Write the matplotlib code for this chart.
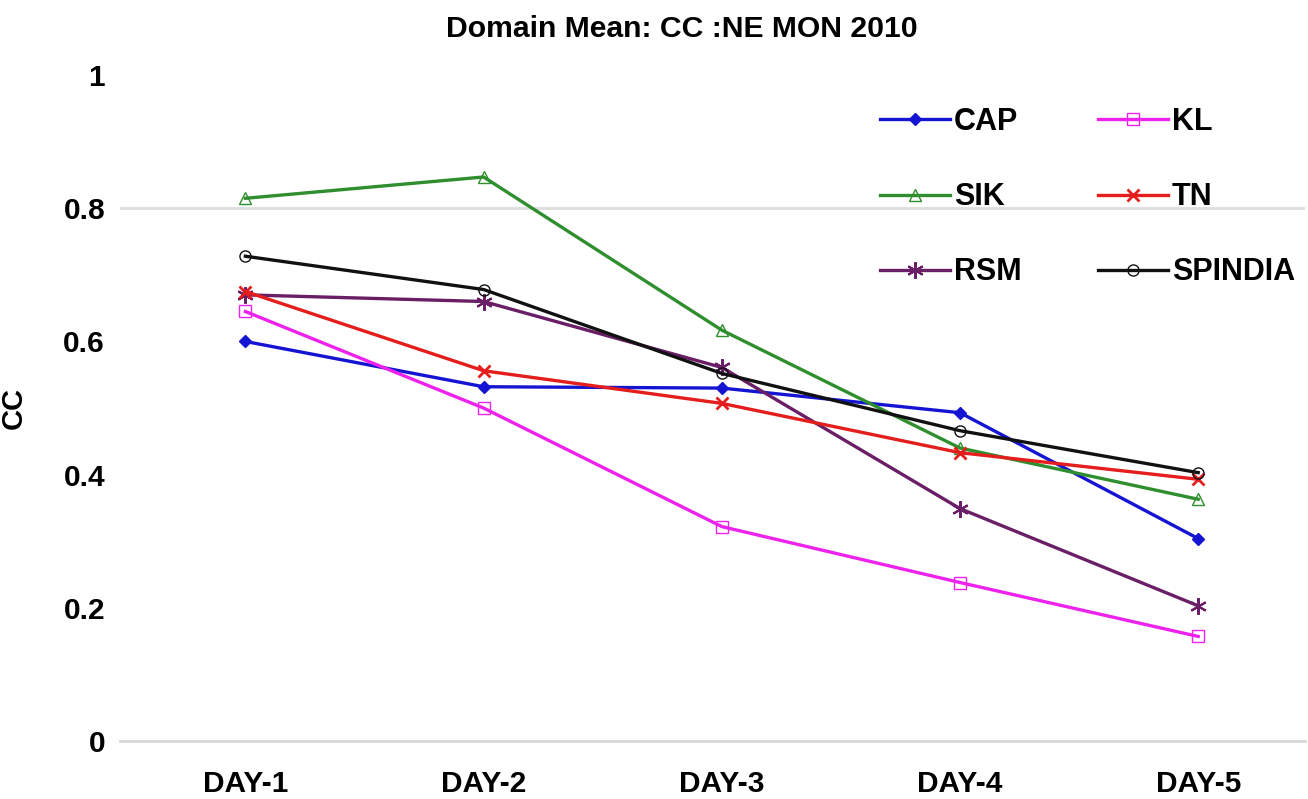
import matplotlib
matplotlib.use("Agg")
import matplotlib.pyplot as plt

plt.rcParams['font.family'] = ['Liberation Sans', 'DejaVu Sans']
plt.rcParams['font.weight'] = 'bold'

days = ["DAY-1", "DAY-2", "DAY-3", "DAY-4", "DAY-5"]
cap = [0.600, 0.532, 0.530, 0.493, 0.304]
kl = [0.645, 0.500, 0.322, 0.238, 0.157]
sik = [0.815, 0.847, 0.617, 0.440, 0.363]
tn = [0.675, 0.556, 0.507, 0.433, 0.393]
rsm = [0.670, 0.660, 0.561, 0.349, 0.203]
spindia = [0.728, 0.678, 0.552, 0.466, 0.403]

# legend fills column-wise, so this order gives CAP|KL, SIK|TN, RSM|SPINDIA rows
series = [
    ("CAP", cap, "#1414d2", dict(marker="D", markersize=6, markerfacecolor="#1414d2")),
    ("SIK", sik, "#2f8f2f", dict(marker="^", markersize=9, markerfacecolor="none")),
    ("RSM", rsm, "#6a1e66", dict(marker=(6, 2, 0), markersize=12, markeredgewidth=1.5)),
    ("KL", kl, "#ee22ee", dict(marker="s", markersize=8, markerfacecolor="none")),
    ("TN", tn, "#e41d1d", dict(marker="x", markersize=9, markeredgewidth=2)),
    ("SPINDIA", spindia, "#111111", dict(marker="o", markersize=8, markerfacecolor="none")),
]

fig = plt.figure(figsize=(13.08, 7.99), dpi=100)
ax = fig.add_axes([0.092, 0.0726, 0.906, 0.8334])

x = range(len(days))
for name, vals, color, style in series:
    ax.plot(x, vals, color=color, linewidth=2.4, label=name, markeredgecolor=color, **style)

ax.set_xlim(-0.525, 4.45)
ax.set_ylim(0, 1)
ax.set_xticks(list(x))
ax.set_xticklabels(days)
ax.set_yticks([0, 0.2, 0.4, 0.6, 0.8, 1])
ax.set_yticklabels(["0", "0.2", "0.4", "0.6", "0.8", "1"])
ax.tick_params(axis="both", labelsize=21.5, length=0)
ax.tick_params(axis="x", pad=21)
ax.tick_params(axis="y", pad=11)

for s in ["top", "right", "left"]:
    ax.spines[s].set_visible(False)
ax.spines["bottom"].set_color("#d8d8d8")
ax.spines["bottom"].set_linewidth(2)
ax.axhline(0.8, color="#dddddd", linewidth=2, zorder=0)

ax.set_ylabel("CC", fontsize=21, fontweight="bold", labelpad=0)
ax.yaxis.set_label_coords(-0.078, 0.5)
fig.text(682 / 1308, 1 - 29 / 799, "Domain Mean: CC :NE MON 2010", fontsize=21.7,
         fontweight="bold", ha="center", va="center")

ax.legend(ncol=2, loc="upper left", bbox_to_anchor=(880 / 1308, 1 - 107 / 799),
          bbox_transform=fig.transFigure, frameon=False, borderpad=0, borderaxespad=0,
          fontsize=22, handlelength=2.3, handletextpad=0.12, columnspacing=2.5,
          labelspacing=1.48)

fig.savefig("out.png", dpi=100)
